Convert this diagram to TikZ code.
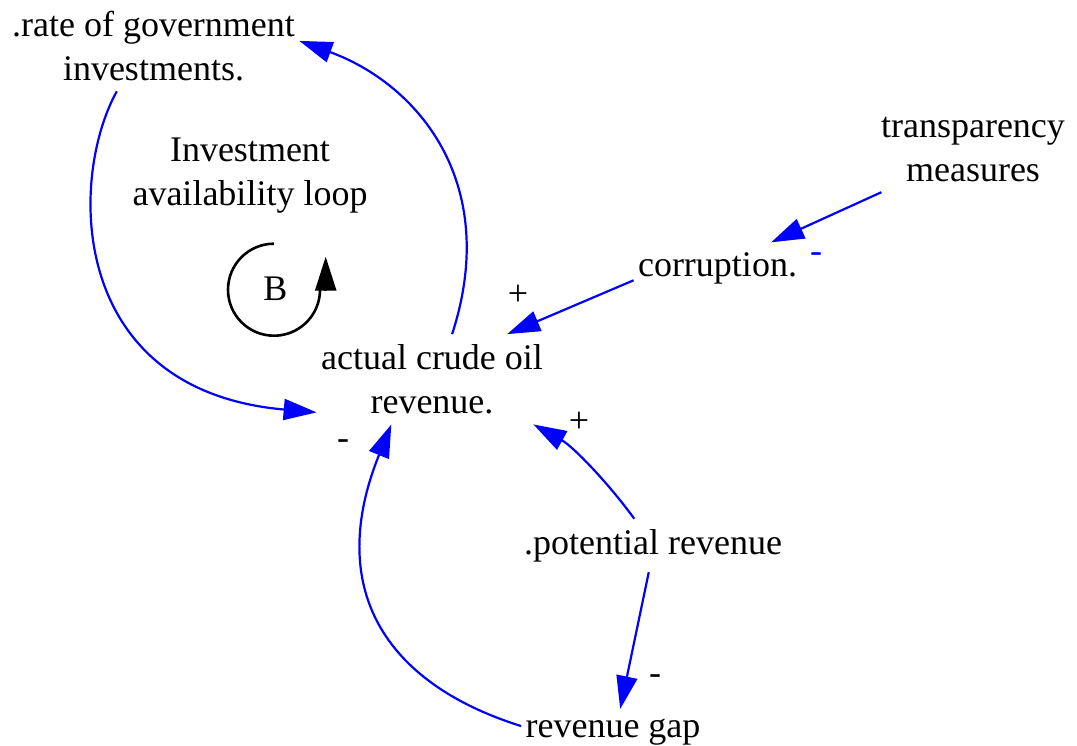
\documentclass[tikz,border=0pt]{standalone}
\usepackage{fontspec}
\setmainfont{Liberation Serif}
\usetikzlibrary{arrows.meta}
\definecolor{linkblue}{RGB}{0,0,255}
\tikzset{
  var/.style={align=center, inner xsep=2pt, inner ysep=5pt},
  link/.style={draw=linkblue, line width=1.1pt, -{Triangle[length=16.5pt,width=10.5pt]}},
  sgn/.style={inner sep=0pt},
  loopline/.style={line width=1.3pt},
}
\begin{document}
\begin{tikzpicture}[x=0.5pt,y=0.5pt,font=\fontsize{18}{22}\selectfont]
\useasboundingbox (0,0) rectangle (1077,745);
% variables
\node[var] (rate) at (153.5,699) {.rate of government\\investments.};
\node[var] (actual) at (432,365.7) {actual crude oil\\revenue.};
\node[var] (corrupt) at (717.5,476.5) {corruption.};
\node[var] (transp) at (973,595.5) {transparency\\measures};
\node[var] (potential) at (653,199.5) {.potential revenue};
\node[var] (revgap) at (613,12.5) {revenue gap};
% loop
\node[var] (looplabel) at (250,569) {Investment\\availability loop};
\node (loopB) at (275.5,456.3) {B};
\draw[loopline] (loopB.center) ++(-1.5,45) arc[start angle=90, end angle=362, radius=46];
\draw[loopline, -{Triangle[length=17pt,width=10.5pt]}] (loopB.center) ++(50.2,-2.3) -- ++(0,34.3);
% links
\draw[link] (transp.205) -- (corrupt.26);
\draw[link] (corrupt.188) -- (actual.31);
\draw[link] (actual.66) .. controls +(72:160) and +(-20:125) .. (rate.2);
\draw[link] (rate.231) .. controls +(241:100) and +(175:250) .. (actual.196);
\draw[link] (potential.125) .. controls +(126:45) and +(-29:45) .. (actual.336);
\draw[link] (potential.261) -- (revgap.73);
\draw[link] (revgap.176) .. controls +(162.6:145) and +(248:175) .. (actual.228);
% polarities
\node[sgn, text=linkblue] (s1) at (816,487) {-};
\node[sgn] (s2) at (518,450) {+};
\node[sgn] (s3) at (579,323) {+};
\node[sgn] (s4) at (343,300) {-};
\node[sgn] (s5) at (655,65) {-};
\end{tikzpicture}
\end{document}
